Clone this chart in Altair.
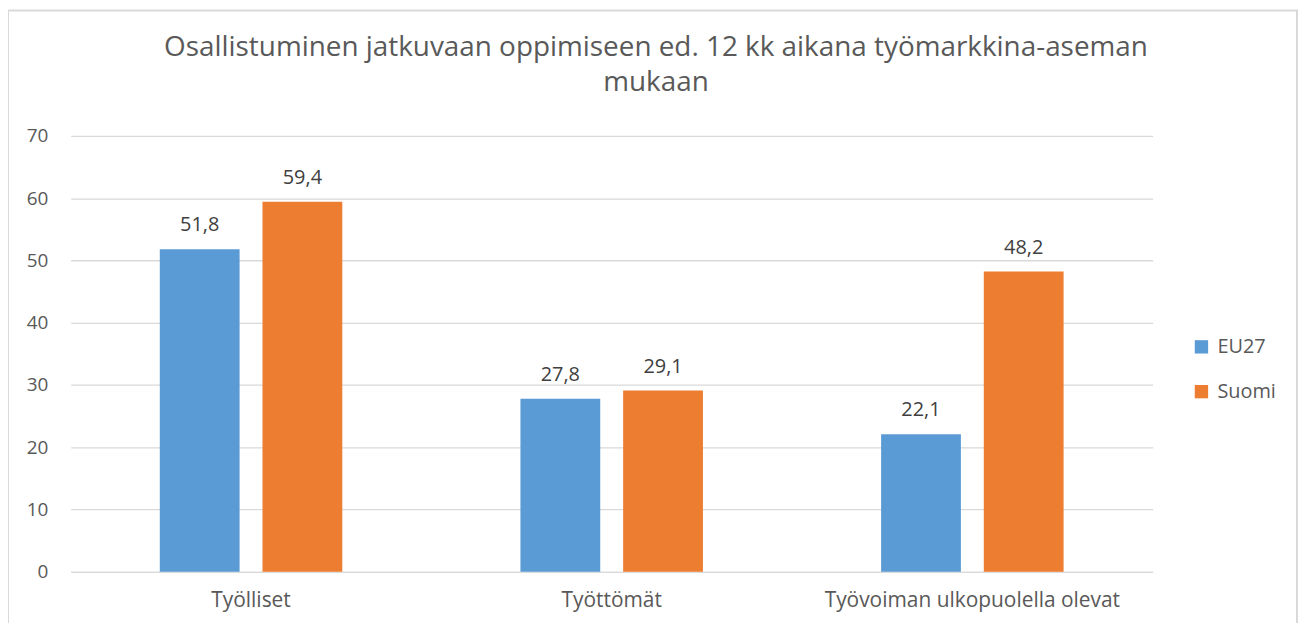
import altair as alt
import pandas as pd

categories = ["Työlliset", "Työttömät", "Työvoiman ulkopuolella olevat"]
eu27 = [51.8, 27.8, 22.1]
suomi = [59.4, 29.1, 48.2]
series = ["EU27", "Suomi"]
colors = ["#5B9BD5", "#ED7D31"]
title_lines = ["Osallistuminen jatkuvaan oppimiseen ed. 12 kk aikana työmarkkina-aseman", "mukaan"]

rows = []
for c, a, b in zip(categories, eu27, suomi):
    rows.append({"cat": c, "series": "EU27", "value": a})
    rows.append({"cat": c, "series": "Suomi", "value": b})
df = pd.DataFrame(rows)
df["label"] = df["value"].map(lambda v: f"{v:.1f}".replace(".", ","))

FONT = "Open Sans"
GRAY = "#595959"
W, H = 1087, 438

x = alt.X("cat:N", sort=categories, title=None,
          scale=alt.Scale(paddingInner=0.494, paddingOuter=0.247),
          axis=alt.Axis(labelAngle=0, labelFontSize=21, labelColor=GRAY, labelFont=FONT, labelLimit=0,
                        ticks=False, domainColor="#d9d9d9", domainWidth=1.3, labelPadding=18))
xo = alt.XOffset("series:N", sort=series, scale=alt.Scale(paddingInner=0.223, paddingOuter=0))
y = alt.Y("value:Q", title=None,
          scale=alt.Scale(domain=[0, 70]),
          axis=alt.Axis(values=list(range(0, 80, 10)), labelFontSize=19, labelColor=GRAY, labelFont=FONT,
                        ticks=False, domain=False, gridColor="#d9d9d9", gridWidth=1.3, labelPadding=23))

bars = alt.Chart(df).mark_bar().encode(
    x=x, xOffset=xo, y=y,
    color=alt.Color("series:N", sort=series, scale=alt.Scale(domain=series, range=colors),
                    legend=alt.Legend(title=None, orient="none", legendX=1126, legendY=202,
                                      symbolType="square", symbolSize=180, labelFontSize=20,
                                      labelColor=GRAY, labelFont=FONT, rowPadding=25, labelOffset=6,
                                      symbolStrokeWidth=0)),
)

texts = alt.Chart(df).mark_text(baseline="bottom", dy=-14, fontSize=20, color="#404040", font=FONT).encode(
    x=alt.X("cat:N", sort=categories), xOffset=alt.XOffset("series:N", sort=series), y="value:Q",
    text="label:N",
)

base1 = alt.Chart(pd.DataFrame({"a": [0]}))
border = base1.mark_rect(
    fill=None, stroke="#d9d9d9", strokeWidth=2, clip=False
).encode(x=alt.value(-63), x2=alt.value(1232), y=alt.value(-126), y2=alt.value(520))

t1 = base1.mark_text(fontSize=28, font=FONT, color=GRAY, baseline="middle", align="center").encode(
    x=alt.value(588), y=alt.value(-88), text=alt.value(title_lines[0]))
t2 = base1.mark_text(fontSize=28, font=FONT, color=GRAY, baseline="middle", align="center").encode(
    x=alt.value(588), y=alt.value(-53), text=alt.value(title_lines[1]))

chart = alt.layer(border, bars, texts, t1, t2).properties(
    width=W, height=H,
    autosize=alt.AutoSizeParams(type="none"),
    padding={"left": 63, "top": 127, "right": 146, "bottom": 50},
).configure_view(stroke=None).configure_axis(grid=True).configure_axisX(grid=False)

chart.save("out.html", embed_options={"renderer": "svg", "actions": False})
